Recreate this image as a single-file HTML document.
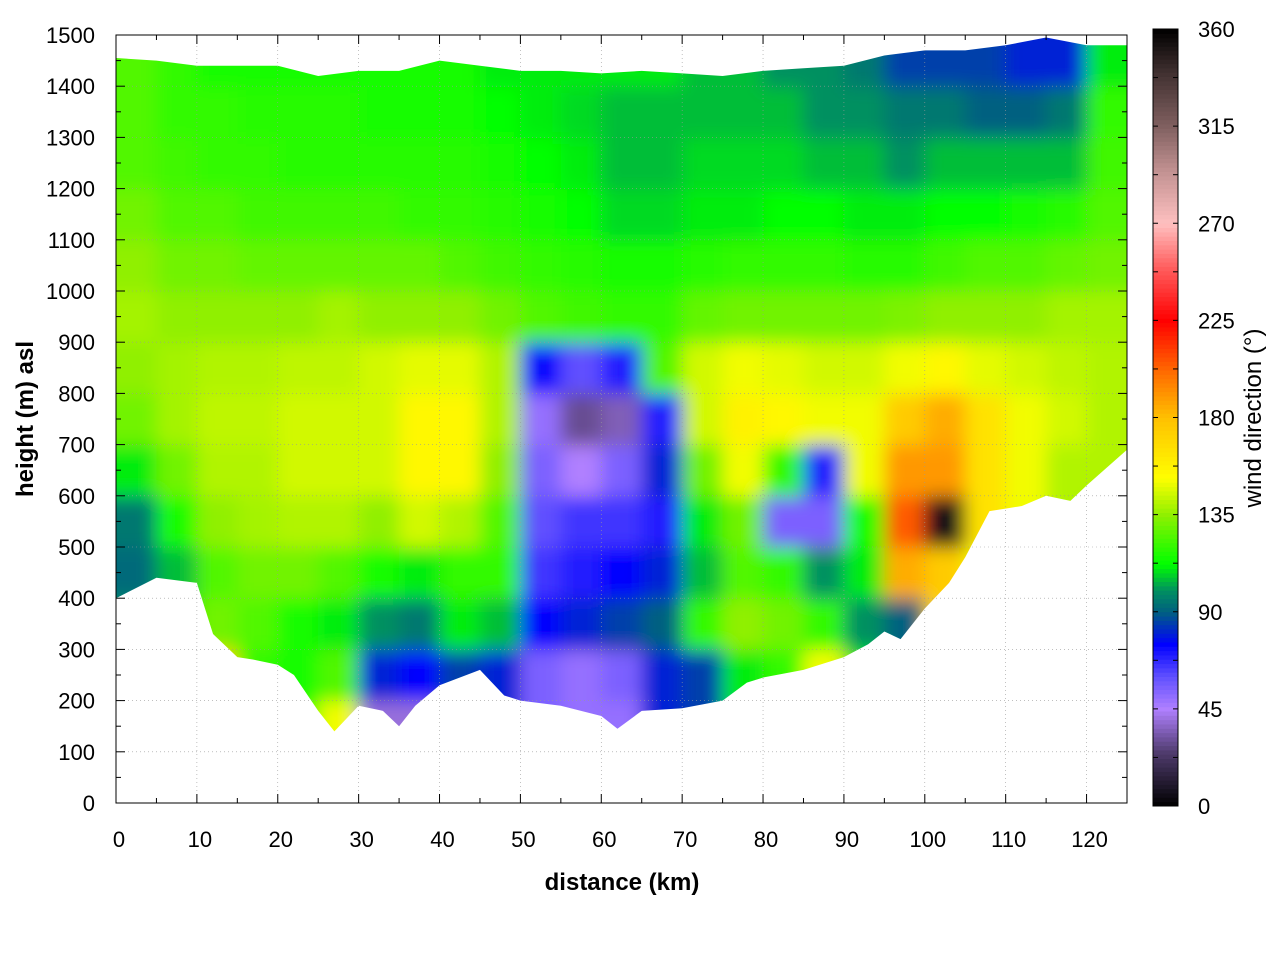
<!DOCTYPE html>
<html><head><meta charset="utf-8"><style>
body{margin:0;background:#fff;}
svg text{font-family:"Liberation Sans",sans-serif;}
</style></head><body>
<svg id="chart" width="1280" height="960" xmlns="http://www.w3.org/2000/svg">
<defs>
<filter id="blur" x="-5%" y="-5%" width="110%" height="110%"><feGaussianBlur stdDeviation="9"/></filter>
<clipPath id="plotclip"><rect x="116" y="35" width="1011" height="768"/></clipPath>
</defs>
<rect width="1280" height="960" fill="#fff"/>
<g clip-path="url(#plotclip)"><g id="cells" filter="url(#blur)"></g></g>
<g id="masks"></g>
<g id="axes"></g>
</svg>
<script>
const colCenters=[2.5,7.5,12.5,17.5,22.5,27.5,32.5,37.5,42.5,47.5,52.5,57.5,62.5,67.5,72.5,77.5,82.5,87.5,92.5,97.5,102.5,107.5,112.5,117.5,122.5];
const rowCenters=[50,150,250,350,450,550,650,750,850,950,1050,1150,1250,1350,1450];
const dir50  =[100,100,150,120,115,150,40,40,85,80,55,50,55,80,85,110,120,150,110,90,120,130,130,130,130];
const dir150 =[100,100,150,120,115,150,40,40,85,80,55,50,50,80,85,110,120,150,110,90,120,130,130,130,130];
const dir250 =[100,100,175,120,115,125,80,75,85,80,55,50,55,80,85,110,120,150,110,90,120,130,130,130,130];
const dir350 =[100,110,130,125,115,110,100,95,110,105,75,80,85,90,120,135,130,120,100,90,170,150,130,130,130];
const dir450 =[92,105,125,130,130,125,115,110,120,120,65,70,75,80,105,125,120,100,110,185,175,150,140,135,135];
const dir550 =[95,115,135,138,140,140,135,145,140,125,60,65,65,70,110,130,55,55,115,205,5,165,150,140,138];
const dir650 =[110,130,140,140,145,145,145,155,155,135,55,45,55,80,130,150,120,70,150,190,190,165,150,140,140];
const dir750 =[130,138,142,142,145,145,145,155,155,140,50,30,35,70,145,158,155,150,150,175,185,165,150,145,140];
const dir850 =[135,138,140,140,142,142,145,148,148,140,75,60,70,125,145,150,148,145,145,150,155,148,145,142,140];
const dir950 =[138,135,135,135,135,138,135,135,135,130,125,122,120,120,128,130,130,130,130,132,135,135,135,138,138];
const dir1050=[135,130,130,128,128,128,128,128,125,122,120,118,115,115,118,120,120,120,118,118,122,125,125,128,130];
const dir1150=[130,125,125,122,122,122,122,120,120,118,115,112,108,108,110,110,112,112,110,110,112,112,115,118,125];
const dir1250=[125,122,120,120,118,118,118,118,118,115,112,110,105,105,108,108,108,105,105,100,105,105,105,105,122];
const dir1350=[125,120,120,118,118,118,115,115,115,112,110,108,105,105,105,105,105,100,100,95,95,90,90,95,120];
const dir1450=[125,120,115,115,115,115,115,115,115,110,110,110,110,110,105,105,100,100,95,85,85,85,80,80,110];
const grid=[dir50,dir150,dir250,dir350,dir450,dir550,dir650,dir750,dir850,dir950,dir1050,dir1150,dir1250,dir1350,dir1450];
const terrainKm=[0,5,10,12,15,17,20,22,25,27,30,33,35,37,40,45,48,50,55,60,62,65,70,75,78,80,85,90,93,95,97,100,103,105,108,112,115,118,120,125];
const terrainM=[400,440,430,330,285,280,270,250,180,140,190,180,150,190,230,260,210,200,190,170,145,180,185,200,235,245,260,285,310,335,320,380,430,480,570,580,600,590,620,690];
const topKm=[0,5,10,15,20,25,30,35,40,45,50,55,60,65,70,75,80,85,90,95,100,105,110,115,120,125];
const topM=[1455,1450,1440,1440,1440,1420,1430,1430,1450,1440,1430,1430,1425,1430,1425,1420,1430,1435,1440,1460,1470,1470,1480,1495,1480,1480];
const xTicks=[0,10,20,30,40,50,60,70,80,90,100,110,120];
const yTicks=[0,100,200,300,400,500,600,700,800,900,1000,1100,1200,1300,1400,1500];
const cbTicks=[0,45,90,135,180,225,270,315,360];
const cStops=[[0,[0,0,0]],[25,[80,60,110]],[45,[176,128,255]],[60,[96,80,255]],[75,[0,0,255]],[90,[0,96,128]],[100,[0,144,96]],[112,[0,255,0]],[135,[144,240,0]],[152,[255,255,0]],[180,[255,192,0]],[200,[255,112,0]],[225,[255,0,0]],[250,[255,96,96]],[270,[255,192,192]],[295,[192,144,144]],[315,[128,96,96]],[340,[64,48,48]],[360,[0,0,0]]];
const X0=116,X1=1127,Y0=803,Y1=35;
const xs=k=>X0+k/125*(X1-X0), ys=m=>Y0-m/1500*(Y0-Y1);
function col(v){for(let i=1;i<cStops.length;i++){if(v<=cStops[i][0]){const a=cStops[i-1],b=cStops[i],t=(v-a[0])/(b[0]-a[0]);return 'rgb('+a[1].map((c,j)=>Math.round(c+(b[1][j]-c)*t)).join(',')+')';}}return '#000';}
const NS='http://www.w3.org/2000/svg';
function mk(t,a,p){const e=document.createElementNS(NS,t);for(const k in a)e.setAttribute(k,a[k]);(p||document.getElementById('axes')).appendChild(e);return e;}
const cells=document.getElementById('cells');
const nR=grid.length,nC=colCenters.length;
grid.forEach((row,ri)=>row.forEach((v,ci)=>{
 let x=xs(colCenters[ci]-2.5),y=ys(rowCenters[ri]+50),w=xs(5)-xs(0)+0.6,h=ys(0)-ys(100)+0.6;
 if(ci===0){x-=40;w+=40;} if(ci===nC-1){w+=40;}
 if(ri===nR-1){y-=40;h+=40;} if(ri===0){h+=40;}
 const r=mk('rect',{x:x,y:y,width:w,height:h,fill:col(v)},cells);
 
 
}));
const masks=document.getElementById('masks');
let p='M'+xs(0)+','+ys(0);terrainKm.forEach((k,i)=>p+=' L'+xs(k)+','+ys(terrainM[i]));p+=' L'+xs(125)+','+ys(0)+' Z';
const tm=mk('path',{d:p,fill:'#fff'},masks);


p='M'+xs(0)+','+(Y1-2);topKm.forEach((k,i)=>p+=' L'+xs(k)+','+ys(topM[i]));p+=' L'+xs(125)+','+(Y1-2)+' Z';
const tp=mk('path',{d:p,fill:'#fff'},masks);


xTicks.forEach(k=>{const l=mk('line',{x1:xs(k),x2:xs(k),y1:Y0,y2:Y1,stroke:'#999','stroke-width':0.6,'stroke-dasharray':'1,3'});});
yTicks.forEach(m=>{const l=mk('line',{x1:X0,x2:X1,y1:ys(m),y2:ys(m),stroke:'#999','stroke-width':0.6,'stroke-dasharray':'1,3'});});
const fr=mk('rect',{x:X0,y:Y1,width:X1-X0,height:Y0-Y1,fill:'none',stroke:'#000','stroke-width':1});

for(let k=0;k<=125;k+=5){const L=k%10?5:9;mk('line',{x1:xs(k),x2:xs(k),y1:Y0,y2:Y0-L,stroke:'#000'});mk('line',{x1:xs(k),x2:xs(k),y1:Y1,y2:Y1+L,stroke:'#000'});}
for(let m=0;m<=1500;m+=50){const L=m%100?5:9;mk('line',{x1:X0,x2:X0+L,y1:ys(m),y2:ys(m),stroke:'#000'});mk('line',{x1:X1,x2:X1-L,y1:ys(m),y2:ys(m),stroke:'#000'});}
xTicks.forEach(k=>{const t=mk('text',{x:xs(k)+3,y:847,'font-size':22,'text-anchor':'middle'});t.textContent=k;});
yTicks.forEach(m=>{const t=mk('text',{x:95,y:ys(m)+8,'font-size':22,'text-anchor':'end'});t.textContent=m;});
let t=mk('text',{x:622,y:890,'font-size':24,'font-weight':'bold','text-anchor':'middle'});t.textContent='distance (km)';
t=mk('text',{x:0,y:0,'font-size':24,'font-weight':'bold','text-anchor':'middle',transform:'translate(33,419) rotate(-90)'});t.textContent='height (m) asl';
const CB0=806,CB1=29,cbx=1153,cbw=25;
const cb=mk('g',{});
for(let v=0;v<360;v+=2){mk('rect',{x:cbx,y:CB0-(v+2)/360*(CB0-CB1),width:cbw,height:(CB0-CB1)/180+0.5,fill:col(v+1)},cb);}
mk('rect',{x:cbx,y:CB1,width:cbw,height:CB0-CB1,fill:'none',stroke:'#000'},cb);
for(let v=0;v<=360;v+=22.5){const y=CB0-v/360*(CB0-CB1);mk('line',{x1:cbx,x2:cbx+5,y1:y,y2:y,stroke:'#000'},cb);mk('line',{x1:cbx+cbw,x2:cbx+cbw-5,y1:y,y2:y,stroke:'#000'},cb);}
cbTicks.forEach(v=>{const tt=mk('text',{x:1198,y:CB0-v/360*(CB0-CB1)+8,'font-size':22},cb);tt.textContent=v;});
t=mk('text',{x:0,y:0,'font-size':24,'text-anchor':'middle',transform:'translate(1261,418) rotate(-90)'});t.textContent='wind direction (°)';
</script>
</body></html>
